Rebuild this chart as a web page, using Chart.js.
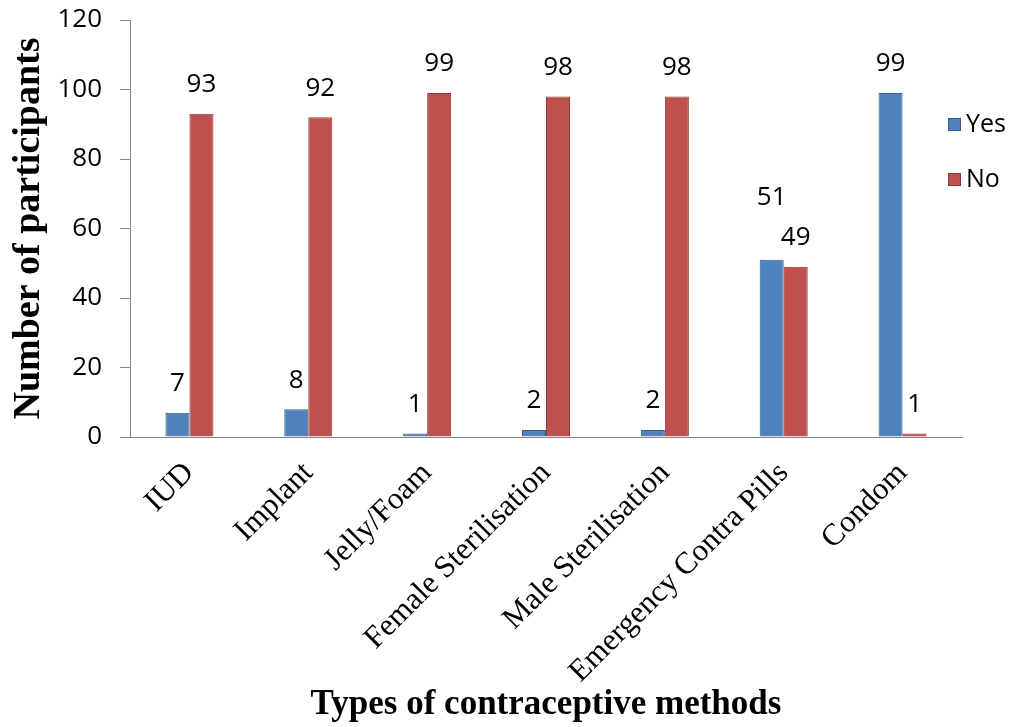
<!DOCTYPE html>
<html>
<head>
<meta charset="utf-8">
<script src="https://cdn.jsdelivr.net/npm/chart.js@4"></script>
<style>
  html, body { margin: 0; padding: 0; background: #fff; }
  #wrap { width: 1017px; height: 727px; }
</style>
</head>
<body>
<div id="wrap"><canvas id="myChart" width="1017" height="727"></canvas></div>
<script>
let metodi = ["IUD", "Implant", "Jelly/Foam", "Female Sterilisation", "Male Sterilisation", "Emergency Contra Pills", "Condom"];
let risposteSi = [7, 8, 1, 2, 2, 51, 99];
let risposteNo = [93, 92, 99, 98, 98, 49, 1];
let tickY = [0, 20, 40, 60, 80, 100, 120];

const numFont = "'Open Sans', 'Liberation Sans', sans-serif";
const serifFont = "'Liberation Serif', 'Times New Roman', serif";

// etichette sopra le barre
const valoriPlugin = {
  id: "valori",
  afterDatasetsDraw(chart) {
    const ctx = chart.ctx;
    ctx.save();
    ctx.font = "26px " + numFont;
    ctx.fillStyle = "#000";
    ctx.textAlign = "center";
    ctx.textBaseline = "middle";
    chart.data.datasets.forEach((ds, di) => {
      const meta = chart.getDatasetMeta(di);
      meta.data.forEach((bar, i) => {
        let off = 29;
        // quando i due valori sono vicini l'etichetta del Si sta più in alto
        if (di === 0 && Math.abs(risposteSi[i] - risposteNo[i]) < 5) off = 62;
        ctx.fillText(ds.data[i], bar.x, bar.y - off);
      });
    });
    ctx.restore();
  },
};

// legenda a destra
const legendaPlugin = {
  id: "legenda",
  afterDraw(chart) {
    const ctx = chart.ctx;
    ctx.save();
    ctx.font = "25px " + numFont;
    ctx.textBaseline = "middle";
    ctx.textAlign = "left";
    const voci = [
      { t: "Yes", c: "#4F81BD", b: "#385D8A", y: 125 },
      { t: "No", c: "#C0504D", b: "#8C3836", y: 180 },
    ];
    voci.forEach((v) => {
      ctx.fillStyle = v.c;
      ctx.fillRect(948, v.y - 7, 13, 13);
      ctx.strokeStyle = v.b;
      ctx.lineWidth = 1;
      ctx.strokeRect(948.5, v.y - 6.5, 12, 12);
      ctx.fillStyle = "#000";
      ctx.fillText(v.t, 966, v.y);
    });
    ctx.restore();
  },
};

var ctx = document.getElementById("myChart");
var myChart = new Chart(ctx, {
  type: "bar",
  data: {
    labels: metodi,
    datasets: [
      {
        label: "Yes",
        data: risposteSi,
        backgroundColor: "#4F81BD",
        borderColor: "#385D8A",
        borderWidth: 1,
        categoryPercentage: 0.404,
        barPercentage: 1,
      },
      {
        label: "No",
        data: risposteNo,
        backgroundColor: "#C0504D",
        borderColor: "#8C3836",
        borderWidth: 1,
        categoryPercentage: 0.404,
        barPercentage: 1,
      },
    ],
  },
  options: {
    responsive: false,
    animation: false,
    layout: { padding: { top: 20, right: 55, bottom: 0, left: 0 } },
    plugins: {
      legend: { display: false },
      tooltip: { enabled: false },
    },
    scales: {
      x: {
        grid: { display: false },
        border: { display: true, color: "#868686", width: 1 },
        ticks: {
          font: { family: serifFont, size: 31 },
          color: "#000",
          minRotation: 45,
          maxRotation: 45,
          autoSkip: false,
          padding: 10,
        },
        title: {
          display: true,
          text: "Types of contraceptive methods",
          font: { family: serifFont, size: 35, weight: "bold" },
          color: "#000",
          padding: { top: 0, bottom: 1 },
        },
        afterFit(scale) {
          scale.height = 290;
        },
      },
      y: {
        min: 0,
        max: 120,
        afterBuildTicks(scale) {
          scale.ticks = tickY.map((v) => ({ value: v }));
        },
        grid: {
          drawOnChartArea: false,
          drawTicks: true,
          tickLength: 10,
          color: "#868686",
        },
        border: { display: true, color: "#868686", width: 1 },
        ticks: {
          font: { family: numFont, size: 26 },
          color: "#000",
          padding: 18,
        },
        title: {
          display: true,
          text: "Number of participants",
          font: { family: serifFont, size: 38, weight: "bold" },
          color: "#000",
          padding: { top: 6, bottom: 0 },
        },
        afterFit(scale) {
          scale.width = 130;
          scale.paddingTop = 0;
          scale.paddingBottom = 0;
        },
      },
    },
  },
  plugins: [valoriPlugin, legendaPlugin],
});
</script>
</body>
</html>
